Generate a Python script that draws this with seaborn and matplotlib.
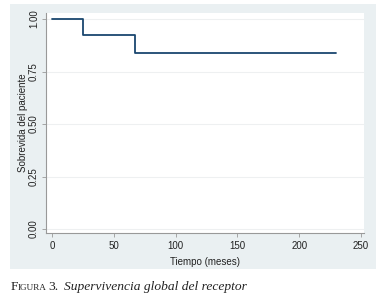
import matplotlib
matplotlib.use("Agg")
import matplotlib.pyplot as plt
from matplotlib.patches import Rectangle
import seaborn as sns
import pandas as pd

# Data (Kaplan-Meier steps)
tiempo = [0, 25, 67, 230]
sobrevida = [1.0, 0.923, 0.837, 0.837]
xticks = [0, 50, 100, 150, 200, 250]
yticks = [0.0, 0.25, 0.5, 0.75, 1.0]
ytick_labels = ["0.00", "0.25", "0.50", "0.75", "1.00"]

sns.set_theme(style="white")
plt.rcParams["font.family"] = ["Liberation Sans", "DejaVu Sans"]

W, H = 385, 297
fig = plt.figure(figsize=(W / 100, H / 100), dpi=100)
fig.patch.set_facecolor("white")

# gray graph region
fig.add_artist(Rectangle((10 / W, 1 - 269 / H), (376 - 10) / W, (269 - 4) / H,
                         transform=fig.transFigure, facecolor="#eaf0f2",
                         edgecolor="none", zorder=0))

ax = fig.add_axes([46 / W, 1 - 233 / H, (364 - 46) / W, (233 - 13) / H])
ax.set_facecolor("white")

df = pd.DataFrame({"Tiempo": tiempo, "Sobrevida": sobrevida})
sns.lineplot(data=df, x="Tiempo", y="Sobrevida", drawstyle="steps-post",
             estimator=None, color="#1a476f", linewidth=1.3, ax=ax)

ax.set_xlim(-4.8, 252.4)
ax.set_ylim(-0.019, 1.0286)
ax.set_xticks(xticks)
ax.set_xticklabels([str(t) for t in xticks])
ax.set_yticks(yticks)
ax.set_yticklabels(ytick_labels, rotation=90, va="center")
for y in yticks:
    ax.axhline(y, color="#eef0f1", linewidth=0.8, zorder=0)

for s in ["top", "right"]:
    ax.spines[s].set_visible(False)
for s in ["left", "bottom"]:
    ax.spines[s].set_color("#999999")
    ax.spines[s].set_linewidth(0.8)

ax.tick_params(axis="both", which="both", direction="out", length=3, width=0.6,
               color="#999999", labelsize=7, labelcolor="#222222", pad=2,
               bottom=True, left=True)
ax.tick_params(axis="x", pad=3)
ax.set_xlabel("Tiempo (meses)", fontsize=7, color="#222222", labelpad=4)
ax.set_ylabel("Sobrevida del paciente", fontsize=7, color="#222222", labelpad=1)

# caption
serif = ["Liberation Serif", "DejaVu Serif"]
yb = 1 - 290 / H
fig.text(11 / W, yb, "F", fontsize=9.7, family=serif, color="#222222")
fig.text(17.5 / W, yb, "IGURA", fontsize=6.6, family=serif, color="#222222")
fig.text(48 / W, yb, "3.", fontsize=9.7, family=serif, color="#222222")
fig.text(64 / W, yb, "Supervivencia global del receptor", fontsize=9.7,
         family=serif, style="italic", color="#222222")

fig.savefig("out.png", dpi=100, facecolor="white")
